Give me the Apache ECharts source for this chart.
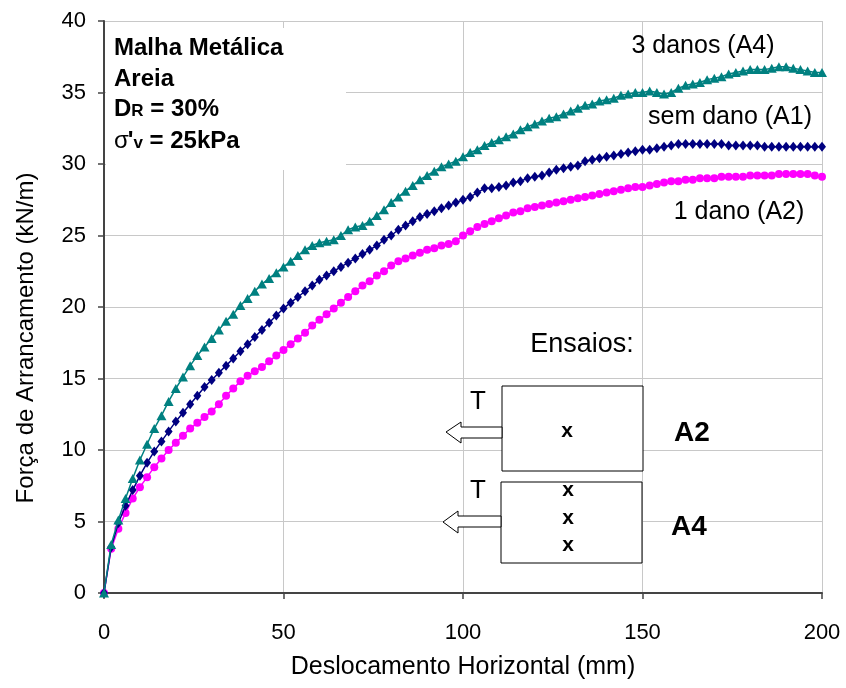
<!DOCTYPE html>
<html>
<head>
<meta charset="utf-8">
<script src="https://cdn.jsdelivr.net/npm/echarts@6/dist/echarts.min.js"></script>
<style>
  html, body { margin: 0; padding: 0; background: #fff; }
  #main { width: 846px; height: 688px; }
</style>
</head>
<body>
<div id="main"></div>
<script>
// x positions (mm), one every 2 mm
var desloc = [];
for (var i = 0; i <= 100; i++) { desloc.push(i * 2); }

// 3 danos (A4)
var tresDanos = [0, 3.4, 5.1, 6.6, 8.0, 9.3, 10.4, 11.5, 12.4, 13.4,
  14.3, 15.1, 15.9, 16.6, 17.2, 17.8, 18.4, 19.0, 19.5, 20.1,
  20.6, 21.1, 21.6, 22.0, 22.4, 22.8, 23.2, 23.6, 24.0, 24.3,
  24.5, 24.6, 24.7, 25.0, 25.4, 25.6, 25.7, 26.0, 26.4, 26.8,
  27.3, 27.7, 28.1, 28.5, 28.9, 29.2, 29.5, 29.8, 30.0, 30.2,
  30.5, 30.8, 31.0, 31.3, 31.5, 31.7, 31.9, 32.1, 32.4, 32.6,
  32.8, 33.0, 33.2, 33.3, 33.5, 33.7, 33.9, 34.1, 34.2, 34.4,
  34.5, 34.6, 34.8, 34.9, 35.0, 35.0, 35.1, 35.0, 34.9, 35.0,
  35.3, 35.5, 35.6, 35.7, 35.9, 36.0, 36.1, 36.3, 36.4, 36.5,
  36.6, 36.6, 36.6, 36.7, 36.8, 36.8, 36.7, 36.6, 36.5, 36.4, 36.4];

// sem dano (A1)
var semDano = [0, 3.2, 4.9, 6.1, 7.2, 8.2, 9.1, 9.9, 10.6, 11.3,
  12.0, 12.6, 13.2, 13.8, 14.4, 14.9, 15.4, 15.9, 16.4, 16.9,
  17.4, 17.9, 18.4, 18.9, 19.4, 19.9, 20.3, 20.7, 21.1, 21.5,
  21.9, 22.2, 22.5, 22.8, 23.1, 23.4, 23.7, 24.0, 24.3, 24.7,
  25.0, 25.4, 25.7, 26.0, 26.3, 26.5, 26.7, 26.9, 27.1, 27.3,
  27.5, 27.7, 28.0, 28.3, 28.3, 28.4, 28.5, 28.7, 28.8, 29.0,
  29.1, 29.2, 29.4, 29.6, 29.7, 29.8, 29.9, 30.2, 30.3, 30.4,
  30.5, 30.6, 30.7, 30.8, 30.9, 31.0, 31.0, 31.1, 31.2, 31.3,
  31.4, 31.4, 31.4, 31.4, 31.4, 31.4, 31.4, 31.3, 31.3, 31.3,
  31.3, 31.3, 31.2, 31.2, 31.2, 31.2, 31.2, 31.2, 31.2, 31.2, 31.2];

// 1 dano (A2)
var umDano = [0, 3.1, 4.5, 5.6, 6.6, 7.4, 8.1, 8.8, 9.4, 10.0,
  10.5, 11.0, 11.5, 11.9, 12.3, 12.7, 13.2, 13.8, 14.3, 14.8,
  15.2, 15.5, 15.8, 16.2, 16.6, 17.0, 17.4, 17.8, 18.2, 18.7,
  19.1, 19.5, 19.9, 20.3, 20.7, 21.1, 21.5, 21.8, 22.2, 22.5,
  22.9, 23.2, 23.4, 23.6, 23.8, 24.0, 24.1, 24.3, 24.4, 24.6,
  25.0, 25.3, 25.6, 25.8, 26.0, 26.2, 26.4, 26.6, 26.7, 26.9,
  27.0, 27.1, 27.2, 27.3, 27.4, 27.5, 27.6, 27.7, 27.8, 27.9,
  28.0, 28.1, 28.2, 28.3, 28.4, 28.4, 28.5, 28.6, 28.7, 28.8,
  28.8, 28.9, 28.9, 29.0, 29.0, 29.0, 29.1, 29.1, 29.1, 29.1,
  29.2, 29.2, 29.2, 29.2, 29.3, 29.3, 29.3, 29.3, 29.3, 29.2, 29.1];

function pares(ys) {
    var out = [];
    for (var i = 0; i < ys.length; i++) { out.push([desloc[i], ys[i]]); }
    return out;
}

var fonte = 'Liberation Sans, Arial, sans-serif';
var myChart = echarts.init(document.getElementById('main'));

// centred text
function rotulo(x, y, texto, size, bold) {
    return {
        type: 'text', x: x, y: y, z: 11,
        style: {
            text: texto, fontSize: size, fontWeight: bold ? 'bold' : 'normal',
            fill: '#000', fontFamily: fonte, align: 'center', verticalAlign: 'middle'
        }
    };
}
// left aligned text (info box)
function info(x, y, texto, size, bold) {
    return {
        type: 'text', x: x, y: y, z: 11,
        style: {
            text: texto, fontSize: size, fontWeight: bold ? 'bold' : 'normal',
            fill: '#000', fontFamily: fonte, align: 'left', verticalAlign: 'middle'
        }
    };
}

var option = {
    animation: false,
    backgroundColor: '#fff',
    textStyle: { fontFamily: fonte },
    grid: { left: 104, right: 24, top: 21, bottom: 95 },
    xAxis: {
        type: 'value', min: 0, max: 200, interval: 50,
        name: 'Deslocamento Horizontal (mm)',
        nameLocation: 'middle', nameGap: 62,
        nameTextStyle: { fontSize: 25, color: '#000', fontFamily: fonte },
        axisLine: { onZero: false, lineStyle: { color: '#444', width: 2 } },
        axisTick: { show: true, length: 6, lineStyle: { color: '#444', width: 1.5 } },
        axisLabel: { fontSize: 22, color: '#000', margin: 29, fontFamily: fonte },
        splitLine: { show: true, lineStyle: { color: '#c8c8c8', width: 1 } }
    },
    yAxis: {
        type: 'value', min: 0, max: 40, interval: 5,
        axisLine: { onZero: false, lineStyle: { color: '#444', width: 2 } },
        axisTick: { show: true, length: 6, lineStyle: { color: '#444', width: 1.5 } },
        axisLabel: { fontSize: 22, color: '#000', margin: 18, fontFamily: fonte },
        splitLine: { show: true, lineStyle: { color: '#c8c8c8', width: 1 } }
    },
    series: [{
        name: '1 dano (A2)', type: 'line', data: pares(umDano),
        symbol: 'circle', symbolSize: 8,
        lineStyle: { color: '#ff00ff', width: 1.5 },
        itemStyle: { color: '#ff00ff' }, z: 3
    }, {
        name: 'sem dano (A1)', type: 'line', data: pares(semDano),
        symbol: 'diamond', symbolSize: [8, 10],
        lineStyle: { color: '#000080', width: 1.5 },
        itemStyle: { color: '#000080' }, z: 4
    }, {
        name: '3 danos (A4)', type: 'line', data: pares(tresDanos),
        symbol: 'triangle', symbolSize: [10, 9],
        lineStyle: { color: '#008080', width: 1.5 },
        itemStyle: { color: '#008080' }, z: 5
    }],
    graphic: [
        // y axis title (sits a bit below the axis centre in the original)
        {
            type: 'text', x: 26, y: 338, rotation: Math.PI / 2, z: 11,
            style: { text: 'Força de Arrancamento (kN/m)', fontSize: 24, fill: '#000', fontFamily: fonte, align: 'center', verticalAlign: 'middle' }
        },
        // white panel behind the info text
        { type: 'rect', shape: { x: 106, y: 28, width: 240, height: 142 }, style: { fill: '#fff' }, z: 1 },
        info(114, 48, 'Malha Metálica', 24, true),
        info(114, 79, 'Areia', 24, true),
        info(114, 109, 'D', 24, true),
        info(131.3, 111, 'R', 17, true),
        info(143.6, 109, ' = 30%', 24, true),
        info(114, 141, 'σ', 24, false),
        info(127.7, 141, '\'', 24, true),
        info(133.4, 143, 'v', 17, true),
        info(142.9, 141, ' = 25kPa', 24, true),
        // curve names
        rotulo(703, 46, '3 danos (A4)', 25, false),
        rotulo(730, 117, 'sem dano (A1)', 25, false),
        rotulo(739, 212, '1 dano (A2)', 25, false),
        rotulo(582, 345, 'Ensaios:', 27, false),
        // ensaio A2
        { type: 'rect', shape: { x: 502, y: 386, width: 141, height: 85 }, style: { fill: '#fff', stroke: '#000', lineWidth: 1 }, z: 10 },
        { type: 'polygon', shape: { points: [[446, 432], [461, 422], [461, 427], [502, 427], [502, 438], [461, 438], [461, 443]] }, style: { fill: '#fff', stroke: '#000', lineWidth: 1 }, z: 10 },
        rotulo(478, 402, 'T', 26, false),
        rotulo(567, 431, 'x', 21, true),
        rotulo(692, 433, 'A2', 28, true),
        // ensaio A4
        { type: 'rect', shape: { x: 501, y: 482, width: 141, height: 81 }, style: { fill: '#fff', stroke: '#000', lineWidth: 1 }, z: 10 },
        { type: 'polygon', shape: { points: [[443, 522], [458, 511], [458, 516], [501, 516], [501, 527], [458, 527], [458, 533]] }, style: { fill: '#fff', stroke: '#000', lineWidth: 1 }, z: 10 },
        rotulo(478, 491, 'T', 26, false),
        rotulo(568, 490, 'x', 21, true),
        rotulo(568, 518, 'x', 21, true),
        rotulo(568, 545, 'x', 21, true),
        rotulo(689, 527, 'A4', 28, true)
    ]
};

myChart.setOption(option);
</script>
</body>
</html>
